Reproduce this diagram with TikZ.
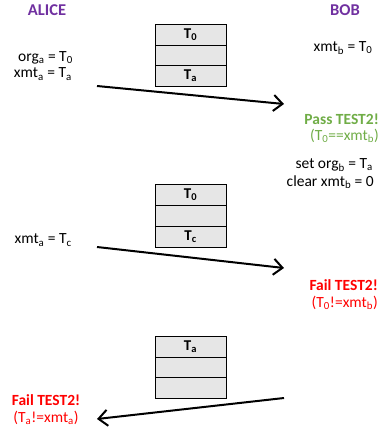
\documentclass[tikz,border=0pt]{standalone}
\usepackage{fontspec}
\setmainfont{Carlito}
\usetikzlibrary{arrows.meta}
\definecolor{purp}{HTML}{7030A0}
\definecolor{grn}{HTML}{70AD47}
\definecolor{redc}{HTML}{FF0000}
\definecolor{cellg}{HTML}{E6E6E6}
\newcommand{\sbs}[1]{\textsubscript{#1}}
\begin{document}
\begin{tikzpicture}[x=1pt,y=-1pt,
  txt/.style={inner sep=0pt,font=\fontsize{15.5}{17}\selectfont},
  btxt/.style={inner sep=0pt,font=\fontsize{15.5}{17}\selectfont\bfseries},
  hdr/.style={inner sep=0pt,font=\fontsize{16.5}{18}\selectfont\bfseries,text=purp},
  cell/.style={draw=black,line width=0.8pt,fill=cellg,minimum width=71pt,minimum height=21pt,inner sep=0pt,outer sep=0pt,font=\fontsize{15}{16}\selectfont\bfseries},
  msg/.style={line width=2pt,-{Straight Barb[length=9pt,width=16pt,line width=2pt]}}]
\useasboundingbox (0,0) rectangle (380,429);
% headers
\node[hdr] (alice) at (47,10) {ALICE};
\node[hdr] (bob) at (345,10) {BOB};
% alice texts
\node[txt,anchor=east] (orga) at (73,58) {org\sbs{a} = T\sbs{0}};
\node[txt,anchor=east] (xmta) at (72,74) {xmt\sbs{a} = T\sbs{a}};
\node[txt] (xmtb) at (343,48) {xmt\sbs{b} = T\sbs{0}};
% box 1
\node[cell] (b1a) at (190.5,34.5) {T\sbs{0}};
\node[cell] (b1b) at (190.5,55.5) {};
\node[cell] (b1c) at (190.5,76) {T\sbs{a}};
% arrow 1
\coordinate (a1s) at (97,86);
\coordinate (a1e) at (284,104);
\draw[msg] (a1s) -- (a1e);
% bob results
\node[btxt,anchor=east,text=grn] (pass) at (379,119) {Pass TEST2!};
\node[txt,anchor=east,text=grn] (passc) at (379,136) {(T\sbs{0}==xmt\sbs{b})};
\node[txt,anchor=east] (setorg) at (373,165) {set org\sbs{b} = T\sbs{a}};
\node[txt,anchor=east] (clr) at (374,182) {clear xmt\sbs{b} = 0};
% box 2
\node[cell] (b2a) at (190.5,195) {T\sbs{0}};
\node[cell] (b2b) at (190.5,216) {};
\node[cell] (b2c) at (190.5,236.5) {T\sbs{c}};
\node[txt,anchor=east] (xmtac) at (72,240) {xmt\sbs{a} = T\sbs{c}};
\coordinate (a2s) at (97,247);
\coordinate (a2e) at (284,268);
\draw[msg] (a2s) -- (a2e);
\node[btxt,anchor=east,text=redc] (fail1) at (378,285) {Fail TEST2!};
\node[txt,anchor=east,text=redc] (fail1c) at (378,303) {(T\sbs{0}!=xmt\sbs{b})};
% box 3
\node[cell] (b3a) at (190.5,346.5) {T\sbs{a}};
\node[cell] (b3b) at (190.5,367.5) {};
\node[cell] (b3c) at (190.5,388) {};
\coordinate (a3s) at (284,398);
\coordinate (a3e) at (97,419);
\draw[msg] (a3s) -- (a3e);
\node[btxt,text=redc] (fail2) at (46,400) {Fail TEST2!};
\node[txt,text=redc] (fail2c) at (46,418) {(T\sbs{a}!=xmt\sbs{a})};
\end{tikzpicture}
\end{document}
